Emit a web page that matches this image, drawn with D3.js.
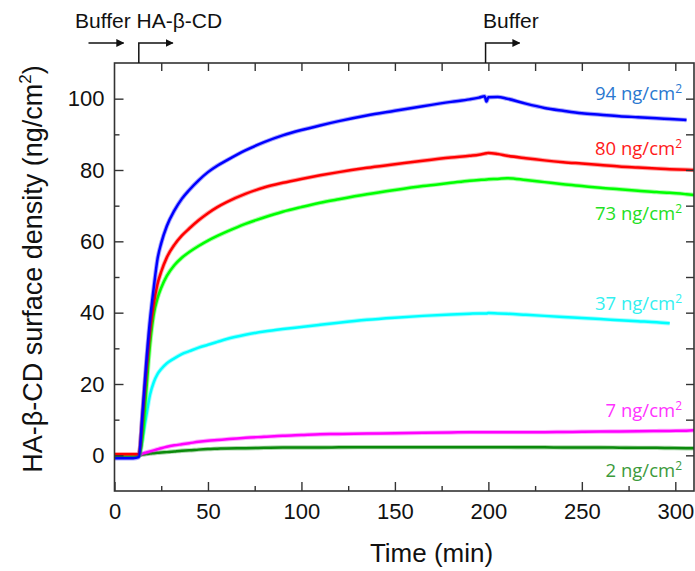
<!DOCTYPE html>
<html>
<head>
<meta charset="utf-8">
<script src="https://cdn.jsdelivr.net/npm/d3@7"></script>
<style>
  html, body { margin: 0; padding: 0; background: #fff; }
  svg { display: block; }
  .axis text { font-family: "Liberation Sans", Arial, sans-serif; font-size: 22px; fill: #111; }
  .axis line { stroke: #333; stroke-width: 1.4; }
  .axis path { display: none; }
</style>
</head>
<body>
<svg id="chart" width="695" height="571"></svg>
<script>
// Time points (min) shared by every trace
const minutes = [0, 5, 10, 13, 15, 17, 19, 21, 23, 25, 28, 32, 36, 40, 45, 50, 55, 60, 70, 80,
                 90, 100, 110, 120, 135, 150, 165, 180, 190, 195, 198, 199, 200, 205, 210, 220, 230,
                 240, 250, 260, 270, 280, 290, 297, 306, 310];

// Surface density traces (ng/cm²); null = no reading at that time
const trace94 = [-0.8, -0.8, -0.8, -0.5, 12, 26, 38, 47, 55, 59.5, 64.3, 68.6, 71.9, 74.4, 77.1, 79.4, 81.2, 82.7, 85.5, 87.8,
                 89.7, 91.2, 92.5, 93.7, 95.3, 96.6, 97.9, 99.1, 99.8, 100.3, 100.7, 99.2, 100.4, 100.5, 100, 98.6, 97.4,
                 96.6, 95.9, 95.5, 95.1, 94.8, 94.5, 94.3, 94, null];
const trace80 = [0.3, 0.3, 0.3, 0.3, 11, 24, 35, 42.5, 48, 51.5, 55.5, 59, 61.6, 63.6, 65.9, 67.9, 69.6, 71, 73.3, 75.1,
                 76.4, 77.5, 78.5, 79.4, 80.6, 81.6, 82.6, 83.5, 84, 84.3, 84.6, 84.7, 84.8, 84.5, 84, 83.3, 82.7,
                 82.2, 81.8, 81.4, 81, 80.7, 80.4, 80.2, 80.1, 80];
const trace73 = [-0.3, -0.3, -0.3, -0.2, 5, 18, 31, 39.5, 44, 47, 50.3, 53.3, 55.4, 57, 58.7, 60.2, 61.5, 62.7, 64.9, 66.7,
                 68.3, 69.6, 70.8, 71.8, 73.2, 74.4, 75.5, 76.4, 77, 77.2, 77.3, 77.35, 77.4, 77.5, 77.7, 77.2, 76.6,
                 76, 75.5, 75, 74.6, 74.2, 73.8, 73.6, 73.2, 73];
const trace37 = [0, 0, 0, 0.2, 5, 11, 17, 20.5, 22.8, 24.2, 25.8, 27.2, 28.4, 29.2, 30.2, 31, 31.8, 32.6, 33.8, 34.7,
                 35.4, 36, 36.6, 37.2, 38, 38.6, 39.1, 39.5, 39.7, 39.8, 39.8, 39.8, 39.9, 39.8, 39.7, 39.4, 39.1,
                 38.8, 38.5, 38.2, 37.9, 37.6, 37.3, 37, null, null];
const trace7 = [0, 0, 0, 0, 0.5, 0.8, 1.1, 1.4, 1.7, 2, 2.4, 2.8, 3.1, 3.4, 3.8, 4.1, 4.3, 4.5, 4.9, 5.2,
                5.5, 5.7, 5.9, 6, 6.1, 6.2, 6.3, 6.4, 6.5, 6.5, 6.5, 6.5, 6.5, 6.5, 6.5, 6.5, 6.5,
                6.55, 6.6, 6.65, 6.7, 6.75, 6.8, 6.85, 6.9, 7];
const trace2 = [0, 0, 0, 0, 0.2, 0.35, 0.5, 0.6, 0.7, 0.8, 0.9, 1.1, 1.3, 1.4, 1.6, 1.75, 1.85, 1.95, 2, 2.1,
                2.2, 2.2, 2.2, 2.25, 2.3, 2.3, 2.3, 2.3, 2.3, 2.3, 2.3, 2.3, 2.3, 2.3, 2.3, 2.25, 2.25,
                2.2, 2.2, 2.2, 2.15, 2.1, 2.1, 2.05, 2, 2];

// Labels written at the end of each trace
const endLabels = ["94", "80", "73", "37", "7", "2"];

// Axis ticks
const xMajorTicks = [0, 50, 100, 150, 200, 250, 300];
const xMinorTicks = [25, 75, 125, 175, 225, 275];
const yMajorTicks = [0, 20, 40, 60, 80, 100];
const yMinorTicks = [-10, 10, 30, 50, 70, 90, 110];

// Injection events (min)
const injectStart = 13;
const rinseStart = 198.5;

// Drawing style per trace (bottom to top)
const traces = [
  { values: trace2,  label: endLabels[5], line: "#0b8a0b", text: "#3b9a3b", dy: 29 },
  { values: trace7,  label: endLabels[4], line: "#ff00ff", text: "#ff33ff", dy: -13 },
  { values: trace37, label: endLabels[3], line: "#00ffff", text: "#33f0f0", dy: -13 },
  { values: trace73, label: endLabels[2], line: "#00ff00", text: "#22e022", dy: 25 },
  { values: trace80, label: endLabels[1], line: "#ff0000", text: "#ff1a1a", dy: -15 },
  { values: trace94, label: endLabels[0], line: "#0000ff", text: "#2a78d0", dy: -20 }
];

const svg = d3.select("#chart");
const L = 114.5, R = 694, T = 63, B = 491;

const x = d3.scaleLinear().domain([0, 310]).range([L, R]);
const y = d3.scaleLinear().domain([-10, 110]).range([B, T]);

const FONT = '"Liberation Sans", Arial, sans-serif';
const LABEL_FONT = '"Open Sans", "Noto Sans", sans-serif';

// Clip traces to the plot frame
svg.append("defs").append("clipPath").attr("id", "plotClip")
  .append("rect").attr("x", L).attr("y", T).attr("width", R - L).attr("height", B - T);

// Traces
const line = d3.line()
  .defined(d => d[1] !== null)
  .x(d => x(d[0]))
  .y(d => y(d[1]))
  .curve(d3.curveMonotoneX);

const plot = svg.append("g").attr("clip-path", "url(#plotClip)");
traces.forEach(tr => {
  const pts = minutes.map((m, i) => [m, tr.values[i]]);
  plot.append("path")
    .attr("d", line(pts))
    .attr("fill", "none")
    .attr("stroke", tr.line)
    .attr("stroke-opacity", 0.35)
    .attr("stroke-width", 4.4)
    .attr("stroke-linejoin", "round");
  plot.append("path")
    .attr("d", line(pts))
    .attr("fill", "none")
    .attr("stroke", tr.line)
    .attr("stroke-width", 2.5)
    .attr("stroke-linejoin", "round");
});

// End labels
traces.forEach(tr => {
  let last = tr.values.length - 1;
  while (tr.values[last] === null) last--;
  const t = svg.append("text")
    .attr("x", 682)
    .attr("y", y(tr.values[last]) + tr.dy)
    .attr("text-anchor", "end")
    .attr("fill", tr.text)
    .style("font-family", LABEL_FONT)
    .style("font-size", "18.5px");
  t.append("tspan").text(tr.label + " ng/cm");
  t.append("tspan").attr("dy", -7).style("font-size", "12px").text("2");
});

// Axes: ticks point inward
svg.append("g").attr("class", "axis").attr("transform", `translate(0,${B})`)
  .call(d3.axisBottom(x).tickValues(xMajorTicks).tickSize(-9).tickPadding(12).tickFormat(d3.format("d")));
svg.append("g").attr("class", "axis").attr("transform", `translate(0,${B})`)
  .call(d3.axisBottom(x).tickValues(xMinorTicks).tickSize(-5).tickFormat(""));
svg.append("g").attr("class", "axis").attr("transform", `translate(${L},0)`)
  .call(d3.axisLeft(y).tickValues(yMajorTicks).tickSize(-9).tickPadding(10).tickFormat(d3.format("d")));
svg.append("g").attr("class", "axis").attr("transform", `translate(${L},0)`)
  .call(d3.axisLeft(y).tickValues(yMinorTicks.filter(v => v > -10 && v < 110)).tickSize(-5).tickFormat(""));
svg.append("g").attr("class", "axis").attr("transform", `translate(0,${T})`)
  .call(d3.axisTop(x).tickValues(xMajorTicks.concat(xMinorTicks).filter(v => v > 0)).tickSize(-8).tickFormat(""));
svg.append("g").attr("class", "axis").attr("transform", `translate(${R},0)`)
  .call(d3.axisRight(y).tickValues(yMajorTicks.concat(yMinorTicks).filter(v => v > -10 && v < 110)).tickSize(-8).tickFormat(""));

// Frame
svg.append("rect")
  .attr("x", L).attr("y", T).attr("width", R - L).attr("height", B - T)
  .attr("fill", "none").attr("stroke", "#333").attr("stroke-width", 1.6);

// Axis titles
svg.append("text")
  .attr("x", 431.5).attr("y", 562)
  .attr("text-anchor", "middle")
  .style("font-family", FONT).style("font-size", "26px").attr("fill", "#111")
  .text("Time (min)");

const yTitle = svg.append("text")
  .attr("transform", "translate(42,269) rotate(-90)")
  .attr("text-anchor", "middle")
  .style("font-family", FONT).style("font-size", "27px").attr("fill", "#111");
yTitle.append("tspan").text("HA-β-CD surface density (ng/cm");
yTitle.append("tspan").attr("dy", -11).style("font-size", "17px").text("2");
yTitle.append("tspan").attr("dy", 11).text(")");

// Injection annotations
const defs = svg.select("defs");
defs.append("marker")
  .attr("id", "head").attr("viewBox", "0 0 10 10")
  .attr("refX", 9).attr("refY", 5)
  .attr("markerWidth", 8).attr("markerHeight", 8)
  .attr("markerUnits", "userSpaceOnUse")
  .attr("orient", "auto")
  .append("path").attr("d", "M0,0 L10,5 L0,10 Z").attr("fill", "#111");

const arrowY = 43, arrowLen = 34;
const arrows = [
  `M${x(0) - 26},${arrowY} H${x(0) - 26 + arrowLen + 1}`,
  `M${x(injectStart)},${T} V${arrowY} H${x(injectStart) + arrowLen}`,
  `M${x(rinseStart)},${T} V${arrowY} H${x(rinseStart) + arrowLen}`
];
arrows.forEach(d => {
  svg.append("path").attr("d", d)
    .attr("fill", "none").attr("stroke", "#111").attr("stroke-width", 1.5)
    .attr("marker-end", "url(#head)");
});

svg.append("text").attr("x", 75).attr("y", 28)
  .style("font-family", FONT).style("font-size", "21px").attr("fill", "#111")
  .text("Buffer HA-β-CD");
svg.append("text").attr("x", 483).attr("y", 28)
  .style("font-family", FONT).style("font-size", "21px").attr("fill", "#111")
  .text("Buffer");
</script>
</body>
</html>
